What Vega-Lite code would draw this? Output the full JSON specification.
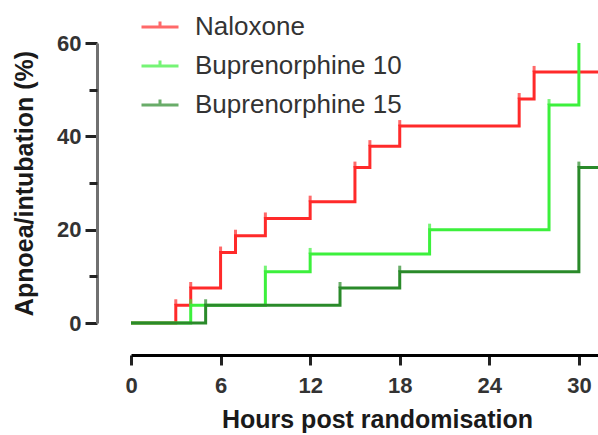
{
  "$schema": "https://vega.github.io/schema/vega-lite/v6.json",
  "width": 467,
  "height": 280,
  "autosize": {"type": "none"},
  "padding": {"left": 131, "top": 43, "right": 0, "bottom": 112},
  "config": {
    "view": {"stroke": null},
    "font": "Liberation Sans",
    "legend": {
      "orient": "none",
      "legendX": 9,
      "legendY": -36,
      "title": null,
      "symbolType": "M-1,0H1M0,0V-0.3",
      "symbolSize": 1369,
      "symbolStrokeWidth": 3,
      "symbolFillColor": "transparent",
      "labelFontSize": 26,
      "labelColor": "#333333",
      "labelOffset": 15,
      "rowPadding": 6,
      "labelLimit": 400
    }
  },
  "data": {
    "values": [
      {"group": "Naloxone", "hours": 0, "pct": 0},
      {"group": "Naloxone", "hours": 3, "pct": 3.8},
      {"group": "Naloxone", "hours": 4, "pct": 7.5},
      {"group": "Naloxone", "hours": 6, "pct": 15.1},
      {"group": "Naloxone", "hours": 7, "pct": 18.7},
      {"group": "Naloxone", "hours": 9, "pct": 22.4},
      {"group": "Naloxone", "hours": 12, "pct": 26.0},
      {"group": "Naloxone", "hours": 15, "pct": 33.3},
      {"group": "Naloxone", "hours": 16, "pct": 37.9},
      {"group": "Naloxone", "hours": 18, "pct": 42.2},
      {"group": "Naloxone", "hours": 26, "pct": 48.0},
      {"group": "Naloxone", "hours": 27, "pct": 53.8},
      {"group": "Naloxone", "hours": 32, "pct": 53.8},
      {"group": "Buprenorphine 10", "hours": 0, "pct": 0},
      {"group": "Buprenorphine 10", "hours": 4, "pct": 3.8},
      {"group": "Buprenorphine 10", "hours": 9, "pct": 11.0},
      {"group": "Buprenorphine 10", "hours": 12, "pct": 14.8},
      {"group": "Buprenorphine 10", "hours": 20, "pct": 20.0},
      {"group": "Buprenorphine 10", "hours": 28, "pct": 46.7},
      {"group": "Buprenorphine 10", "hours": 30, "pct": 60.0},
      {"group": "Buprenorphine 15", "hours": 0, "pct": 0},
      {"group": "Buprenorphine 15", "hours": 5, "pct": 3.8},
      {"group": "Buprenorphine 15", "hours": 14, "pct": 7.5},
      {"group": "Buprenorphine 15", "hours": 18, "pct": 11.0},
      {"group": "Buprenorphine 15", "hours": 30, "pct": 33.3},
      {"group": "Buprenorphine 15", "hours": 32, "pct": 33.3}
    ]
  },
  "encoding": {
    "x": {
      "field": "hours",
      "type": "quantitative",
      "scale": {"domain": [0, 31.28], "nice": false, "zero": false},
      "axis": {
        "values": [0, 6, 12, 18, 24, 30],
        "offset": 32,
        "grid": false,
        "domainColor": "#000000",
        "domainWidth": 3,
        "tickColor": "#222222",
        "tickWidth": 3,
        "tickSize": 10,
        "labelFontSize": 22,
        "labelFontWeight": "bold",
        "labelColor": "#333333",
        "labelPadding": 10,
        "labelFlush": false,
        "title": "Hours post randomisation",
        "titleFontSize": 25,
        "titleFontWeight": "bold",
        "titleColor": "#1a1a1a",
        "titlePadding": 11,
        "titleX": 246
      }
    },
    "y": {
      "field": "pct",
      "type": "quantitative",
      "scale": {"domain": [0, 60], "nice": false}
    },
    "color": {
      "field": "group",
      "type": "nominal",
      "scale": {
        "domain": ["Naloxone", "Buprenorphine 10", "Buprenorphine 15"],
        "range": ["#ff2a2a", "#3cf03c", "#2a8a2a"]
      }
    }
  },
  "layer": [
    {
      "mark": {"type": "line", "interpolate": "step-after", "strokeWidth": 3, "clip": false},
      "encoding": {
        "y": {
          "field": "pct",
          "type": "quantitative",
          "scale": {"domain": [0, 60], "nice": false},
          "axis": {
            "values": [0, 20, 40, 60],
            "offset": 34,
            "grid": false,
            "domainColor": "#707070",
            "domainWidth": 3,
            "tickColor": "#222222",
            "tickWidth": 3,
            "tickSize": 12,
            "labelFontSize": 22,
            "labelFontWeight": "bold",
            "labelColor": "#333333",
            "labelPadding": 4,
            "title": "Apnoea/intubation (%)",
            "titleFontSize": 25,
            "titleFontWeight": "bold",
            "titleColor": "#1a1a1a",
            "titlePadding": 19
          }
        }
      }
    },
    {
      "transform": [{"filter": "datum.hours > 0 && datum.hours < 31 && datum.pct < 60"}],
      "mark": {"type": "tick", "orient": "vertical", "size": 6, "thickness": 3, "yOffset": -3, "clip": false},
      "encoding": {
        "y": {
          "field": "pct",
          "type": "quantitative",
          "scale": {"domain": [0, 60], "nice": false},
          "axis": {
            "orient": "left",
            "values": [10, 30, 50],
            "offset": 34,
            "grid": false,
            "domain": false,
            "labels": false,
            "tickColor": "#222222",
            "tickWidth": 3,
            "tickSize": 8,
            "title": null
          }
        }
      }
    }
  ],
  "resolve": {"axis": {"y": "independent"}}
}
